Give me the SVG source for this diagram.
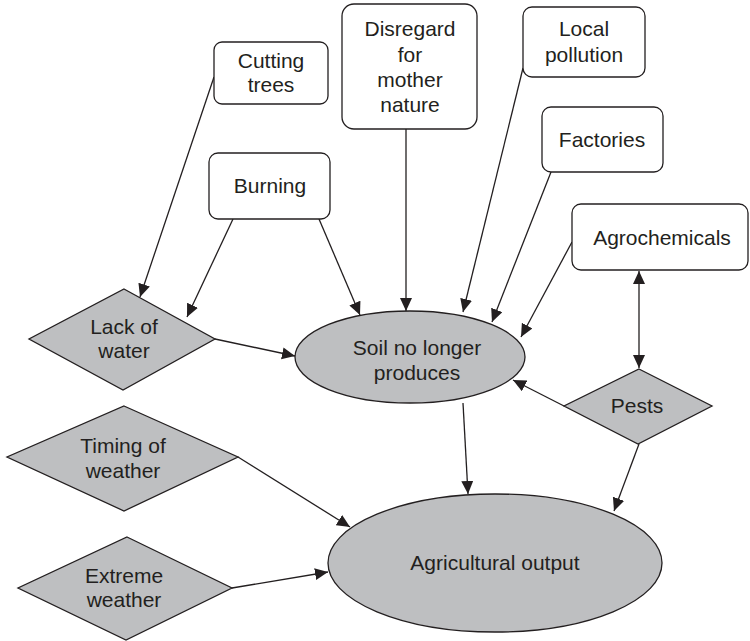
<svg xmlns="http://www.w3.org/2000/svg" width="750" height="641" viewBox="0 0 750 641">
  <defs>
    <marker id="arrow" markerUnits="userSpaceOnUse" markerWidth="14" markerHeight="13" refX="13" refY="6" orient="auto-start-reverse">
      <path d="M0,0 L13,6 L0,12 z" fill="#231f20"/>
    </marker>
  </defs>
  <style>
    .box { fill: #ffffff; stroke: #231f20; stroke-width: 1.3; }
    .shape { fill: #bebfc1; stroke: #231f20; stroke-width: 1.3; }
    .label { font-family: "Liberation Sans", Arial, sans-serif; font-size: 21px; fill: #231f20; text-anchor: middle; }
    .edge { fill: none; stroke: #231f20; stroke-width: 1.3; marker-end: url(#arrow); }
  </style>
  <rect width="750" height="641" fill="#ffffff"/>

  <g id="connectors">
    <line class="edge" x1="214" y1="77" x2="140" y2="297"/>
    <line class="edge" x1="233" y1="219" x2="187" y2="317"/>
    <line class="edge" x1="319" y1="219" x2="360" y2="315"/>
    <line class="edge" x1="406" y1="129" x2="406" y2="311"/>
    <line class="edge" x1="523" y1="68" x2="463" y2="312"/>
    <line class="edge" x1="551" y1="172" x2="492" y2="322"/>
    <line class="edge" x1="572" y1="242" x2="521" y2="337"/>
    <line class="edge" x1="639" y1="271" x2="639" y2="368" style="marker-start:url(#arrow)"/>
    <line class="edge" x1="564" y1="406" x2="513" y2="380"/>
    <line class="edge" x1="639" y1="444" x2="614" y2="511"/>
    <line class="edge" x1="463" y1="403" x2="468" y2="494"/>
    <line class="edge" x1="215" y1="339" x2="295" y2="356"/>
    <line class="edge" x1="238" y1="457" x2="350" y2="527"/>
    <line class="edge" x1="232" y1="588" x2="328" y2="572"/>
  </g>

  <g id="cutting-trees">
    <rect class="box" x="214" y="42" width="114" height="62" rx="8"/>
    <text class="label" x="271" y="68">Cutting</text>
    <text class="label" x="271" y="92">trees</text>
  </g>
  <g id="burning">
    <rect class="box" x="209" y="153" width="121" height="66" rx="9"/>
    <text class="label" x="270" y="193">Burning</text>
  </g>
  <g id="disregard">
    <rect class="box" x="342" y="4" width="135" height="125" rx="12"/>
    <text class="label" x="410" y="36">Disregard</text>
    <text class="label" x="410" y="62">for</text>
    <text class="label" x="410" y="87">mother</text>
    <text class="label" x="410" y="112">nature</text>
  </g>
  <g id="local-pollution">
    <rect class="box" x="523" y="7" width="122" height="70" rx="9"/>
    <text class="label" x="584" y="36">Local</text>
    <text class="label" x="584" y="62">pollution</text>
  </g>
  <g id="factories">
    <rect class="box" x="542" y="107" width="121" height="65" rx="9"/>
    <text class="label" x="602" y="147">Factories</text>
  </g>
  <g id="agrochemicals">
    <rect class="box" x="572" y="204" width="176" height="66" rx="9"/>
    <text class="label" x="662" y="245">Agrochemicals</text>
  </g>

  <g id="lack-of-water">
    <polygon class="shape" points="124,289 215,339 123,390 29,339"/>
    <text class="label" x="124" y="334">Lack of</text>
    <text class="label" x="124" y="358">water</text>
  </g>
  <g id="timing-of-weather">
    <polygon class="shape" points="124,406 238,457 124,511 7,457"/>
    <text class="label" x="123" y="453">Timing of</text>
    <text class="label" x="123" y="478">weather</text>
  </g>
  <g id="extreme-weather">
    <polygon class="shape" points="127,537 232,588 126,640 18,588"/>
    <text class="label" x="124" y="583">Extreme</text>
    <text class="label" x="124" y="607">weather</text>
  </g>
  <g id="pests">
    <polygon class="shape" points="639,369 712,406 638,444 564,406"/>
    <text class="label" x="637" y="413">Pests</text>
  </g>

  <g id="soil-no-longer-produces">
    <ellipse class="shape" cx="410" cy="357" rx="115" ry="46"/>
    <text class="label" x="417" y="355">Soil no longer</text>
    <text class="label" x="417" y="380">produces</text>
  </g>
  <g id="agricultural-output">
    <ellipse class="shape" cx="495" cy="563" rx="167" ry="69"/>
    <text class="label" x="495" y="570">Agricultural output</text>
  </g>
</svg>
